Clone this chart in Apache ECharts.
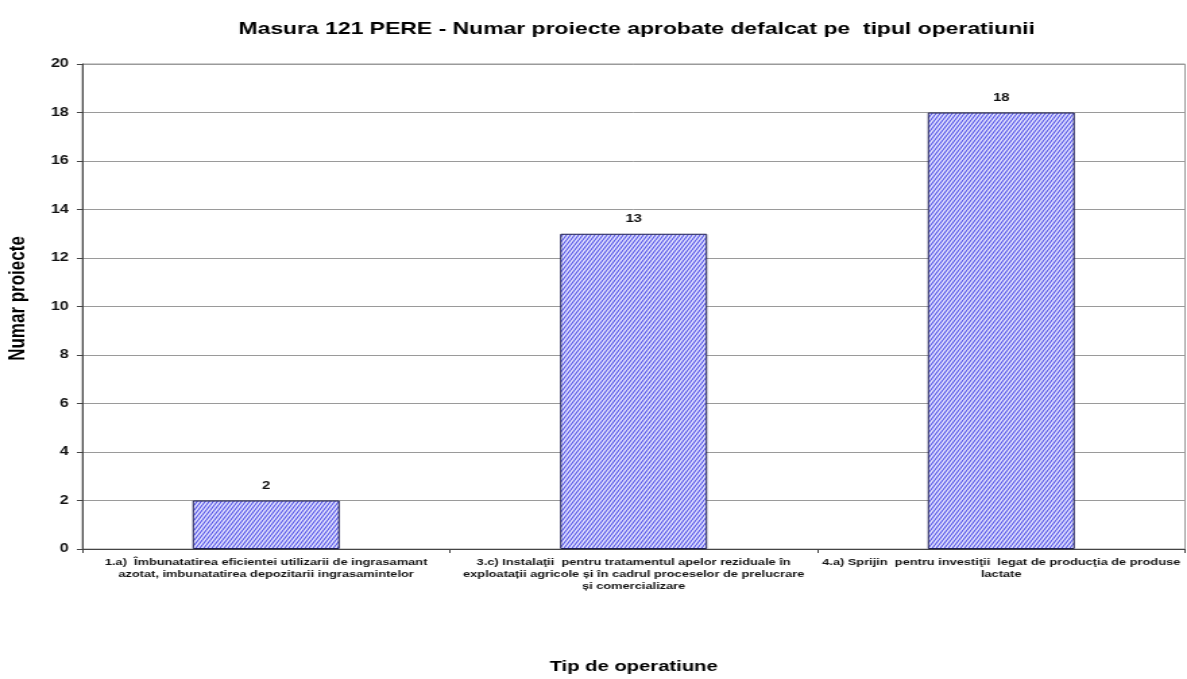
<!DOCTYPE html>
<html>
<head>
<meta charset="utf-8">
<script src="https://cdn.jsdelivr.net/npm/echarts@6/dist/echarts.min.js"></script>
<style>
  html, body { margin: 0; padding: 0; background: #fff; overflow: hidden; }
  /* graficul original e intins pe orizontala: desenam ingust si il intindem */
  #chart { width: 880px; height: 679px; transform: scaleX(1.3489); transform-origin: 0 0; }
</style>
</head>
<body>
<div id="chart"></div>
<script>
// date
var categorii = [
  "1.a)  Îmbunatatirea eficientei utilizarii de ingrasamant\nazotat, imbunatatirea depozitarii ingrasamintelor",
  "3.c) Instalaţii  pentru tratamentul apelor reziduale în\nexploatații agricole și în cadrul proceselor de prelucrare\nși comercializare",
  "4.a) Sprijin  pentru investiţii  legat de producţia de produse\nlactate"
];
var proiecte = [2, 13, 18];

// hasura albastra (tile 3x5, dupa intindere iese ~50 grade)
function hasura() {
  var c = document.createElement("canvas");
  c.width = 3;
  c.height = 5;
  var ctx = c.getContext("2d");
  ctx.fillStyle = "#e4e4ff";
  ctx.fillRect(0, 0, 3, 5);
  ctx.strokeStyle = "#4f4fe6";
  ctx.lineWidth = 1.1;
  ctx.beginPath();
  for (var k = -2; k <= 2; k++) {
    ctx.moveTo(k * 3, 5);
    ctx.lineTo(k * 3 + 3, 0);
  }
  ctx.stroke();
  return c;
}

var myChart = echarts.init(document.getElementById("chart"));

var font = "Liberation Sans";

var option = {
  backgroundColor: "#fff",
  title: {
    text: "Masura 121 PERE - Numar proiecte aprobate defalcat pe  tipul operatiunii",
    left: 467,
    top: 16,
    textAlign: "center",
    textStyle: {
      fontFamily: font,
      fontSize: 17,
      fontWeight: "bold",
      color: "#000"
    }
  },
  grid: {
    left: 61,
    right: 1.5,
    top: 64,
    bottom: 130,
    outerBoundsMode: "none",
    containLabel: false,
    show: true,
    borderColor: "#9a9a9a",
    borderWidth: 1
  },
  xAxis: {
    type: "category",
    data: categorii,
    name: "Tip de operatiune",
    nameLocation: "middle",
    nameGap: 110,
    nameTextStyle: {
      fontFamily: font,
      fontSize: 15,
      fontWeight: "bold",
      color: "#000"
    },
    axisLine: { lineStyle: { color: "#444" } },
    axisTick: { show: true, length: 4, lineStyle: { color: "#444" } },
    axisLabel: {
      interval: 0,
      margin: 7,
      fontFamily: font,
      fontSize: 9.5,
      fontWeight: "bold",
      color: "#111",
      lineHeight: 12,
      align: "center"
    }
  },
  yAxis: {
    type: "value",
    min: 0,
    max: 20,
    interval: 2,
    name: "Numar proiecte",
    nameLocation: "middle",
    nameGap: 39,
    nameRotate: 90,
    nameTextStyle: {
      fontFamily: font,
      fontSize: 17,
      fontWeight: "bold",
      color: "#000",
      padding: [0, 0, 0, 16]
    },
    axisLine: { show: true, lineStyle: { color: "#444" } },
    axisTick: { show: true, length: 4, lineStyle: { color: "#444" } },
    axisLabel: {
      margin: 10,
      fontFamily: font,
      fontSize: 12,
      fontWeight: "bold",
      color: "#111"
    },
    splitLine: { lineStyle: { color: "#9a9a9a", width: 1 } }
  },
  series: [
    {
      type: "bar",
      data: proiecte,
      barWidth: "40%",
      itemStyle: {
        color: { image: hasura(), repeat: "repeat" },
        borderColor: "#1c1c4c",
        borderWidth: 1
      },
      label: {
        show: true,
        position: "top",
        distance: 9,
        fontFamily: font,
        fontSize: 11,
        fontWeight: "bold",
        color: "#111"
      }
    }
  ]
};

myChart.setOption(option);
</script>
</body>
</html>
